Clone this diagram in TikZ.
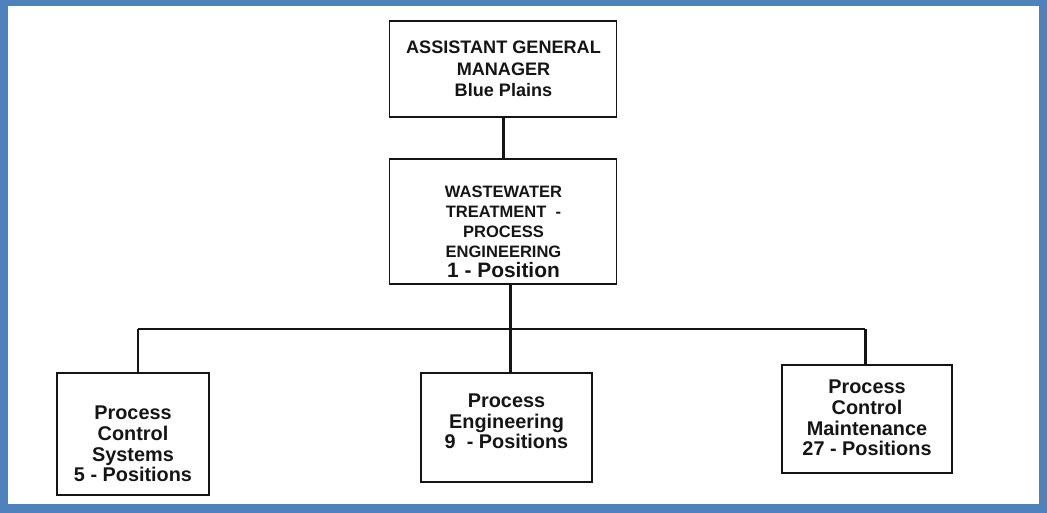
\documentclass[tikz,border=0pt]{standalone}
\usepackage{fontspec}
\setmainfont{Liberation Sans}
\usepackage{xcolor}
\usetikzlibrary{positioning}
\definecolor{frameblue}{HTML}{4F81BD}
\definecolor{ink}{HTML}{151515}

\begin{document}
\begin{tikzpicture}[x=0.02cm,y=-0.02cm,
    orgbox/.style={draw=ink,line width=1.1pt,inner sep=0pt,fill=white},
    boxtext/.style={align=center,text=ink,inner sep=0pt,font=\bfseries},
    link/.style={draw=ink,line width=1.7pt},
    bus/.style={draw=ink,line width=1.1pt}]
    % frame
    \fill[frameblue] (0,0) rectangle (1047,513);
    \fill[white] (8,6) rectangle (1039,504);
    \useasboundingbox (0,0) rectangle (1047,513);

    % the boxes
    \node[orgbox,minimum width=4.54cm,minimum height=1.92cm] (agm) at (503,69) {};
    \node[orgbox,minimum width=4.54cm,minimum height=2.5cm] (wwt) at (503,221.5) {};
    \node[orgbox,minimum width=3.04cm,minimum height=2.44cm] (pcs) at (133,434) {};
    \node[orgbox,minimum width=3.42cm,minimum height=2.18cm] (peng) at (506.5,427.5) {};
    \node[orgbox,minimum width=3.4cm,minimum height=2.16cm] (pcm) at (867,419) {};

    % texts
    \node[boxtext,font=\bfseries\fontsize{10.3}{12.3}\selectfont] (agmtext) at (503.5,69)
        {ASSISTANT GENERAL\\MANAGER\\Blue Plains};
    \node[boxtext,font=\bfseries\fontsize{9.4}{11.4}\selectfont] (wwttext) at (503.5,232)
        {WASTEWATER\\TREATMENT~~-\\PROCESS\\ENGINEERING\\{\fontsize{11.9}{11}\selectfont 1 - Position}};
    \node[boxtext,font=\bfseries\fontsize{11.3}{11.8}\selectfont] (pcstext) at (133,444)
        {Process\\Control\\Systems\\5 - Positions};
    \node[boxtext,font=\bfseries\fontsize{11.3}{11.8}\selectfont] (pengtext) at (506.5,421.5)
        {Process\\Engineering\\9~~- Positions};
    \node[boxtext,font=\bfseries\fontsize{11.3}{11.8}\selectfont] (pcmtext) at (867,418)
        {Process\\Control\\Maintenance\\27 - Positions};

    % connectors
    \coordinate (trunk) at (510,329);
    \coordinate (busW) at (138,329);
    \coordinate (busE) at (865,329);
    \draw[link] (agm) -- (wwt);
    \draw[link] (wwt.south -| trunk) -- (peng.north -| trunk);
    \draw[bus] (busW) -- (busE);
    \draw[link] (busW) -- (pcs.north -| busW);
    \draw[link] (busE) -- (pcm.north -| busE);
\end{tikzpicture}
\end{document}
